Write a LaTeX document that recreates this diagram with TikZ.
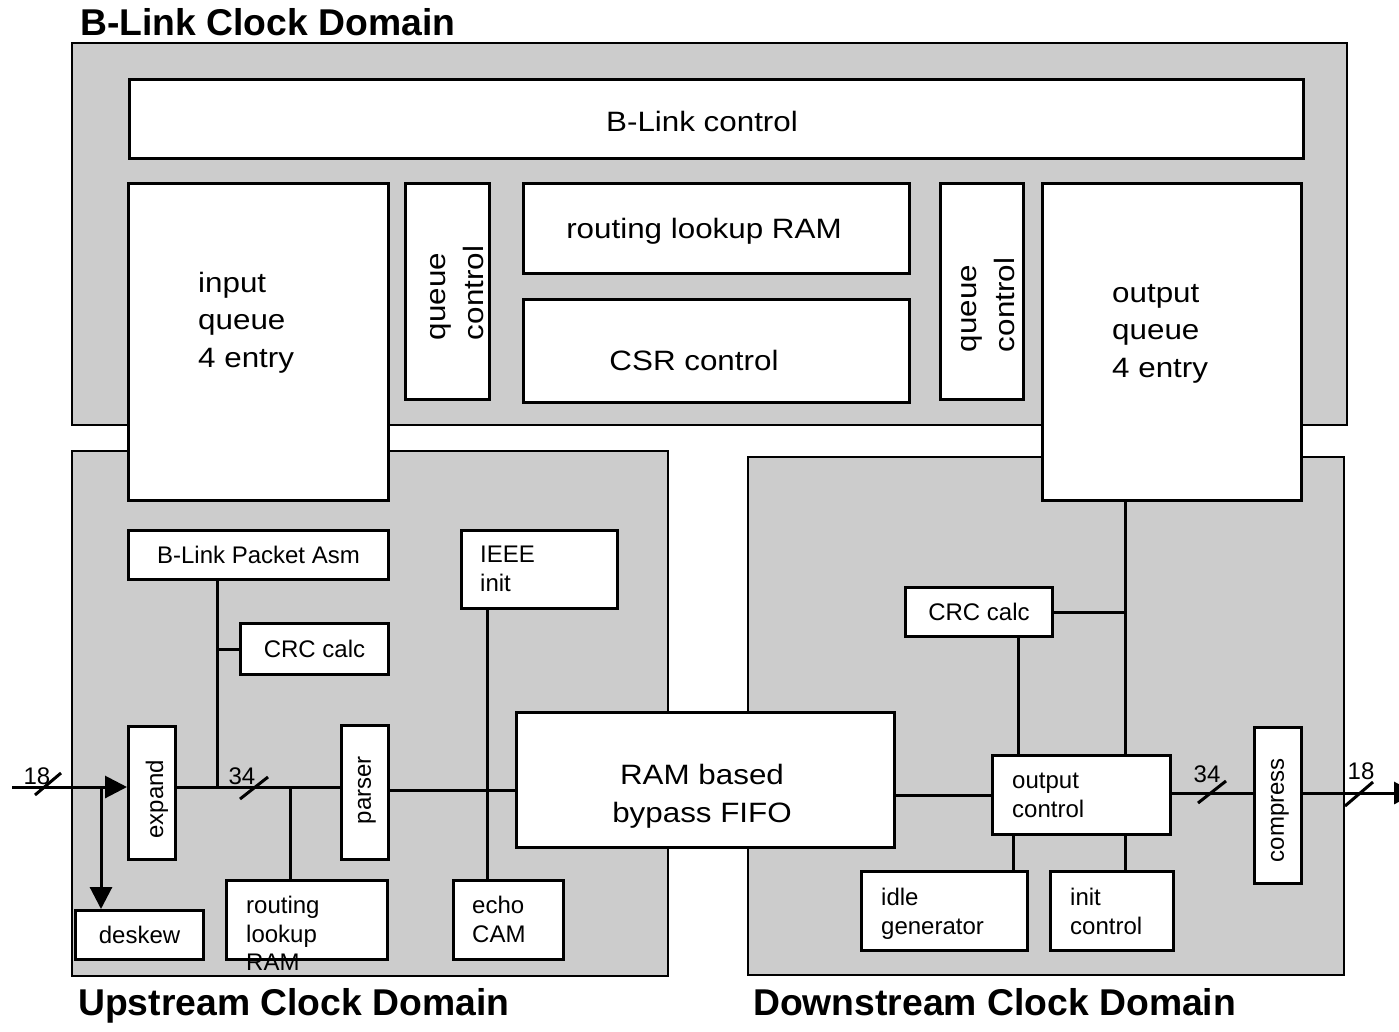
\documentclass[tikz,border=0pt]{standalone}
\usepackage{fontspec}
\setmainfont{Liberation Sans}
\newfontfamily\wideface{Liberation Sans}[FakeStretch=1.12]
\usetikzlibrary{arrows.meta,positioning}

\definecolor{domgray}{gray}{0.8}
\newcommand{\bigfont}{\wideface\fontsize{28}{37.5}\selectfont}
\newcommand{\smallfont}{\fontsize{24}{28.5}\selectfont}
\newcommand{\titlefont}{\fontsize{37.3}{44}\selectfont\bfseries}

\tikzset{
  clkdom/.style={draw, fill=domgray, line width=2pt},
  blk/.style={draw, fill=white, line width=3pt, inner sep=0pt, anchor=north west, font=\smallfont},
  wire/.style={line width=3pt},
  sig/.style={wire, -{Triangle[length=22pt,width=22pt]}},
  lbl/.style={inner sep=0pt, font=\bigfont},
  slbl/.style={inner sep=0pt, font=\smallfont, align=left},
  ttl/.style={inner sep=0pt, anchor=base west, font=\titlefont},
}

\begin{document}
\begin{tikzpicture}[x=1pt,y=-1pt]
  \useasboundingbox (0,0) rectangle (1399,1031);
  \fill[white] (0,0) rectangle (1399,1031);

  % clock domains
  \draw[clkdom] (72,43) rectangle (1347,425);
  \draw[clkdom] (72,451) rectangle (668,976);
  \draw[clkdom] (748,457) rectangle (1344,975);
  \node[ttl] (t-blink) at (80,35) {B-Link Clock Domain};
  \node[ttl] (t-up) at (78,1015) {Upstream Clock Domain};
  \node[ttl] (t-down) at (753,1015) {Downstream Clock Domain};

  % B-Link domain
  \node[blk, minimum width=1174, minimum height=79] (bctl) at (128,78) {};
  \node[lbl, anchor=base] (bctl-t) at (702,131) {B-Link control};
  \node[blk, minimum width=260, minimum height=317] (inq) at (127,182) {};
  \node[lbl, anchor=north west, align=left] (inq-t) at (198,272) {input\\queue\\4 entry};
  \node[blk, minimum width=84, minimum height=216] (qc1) at (404,182) {};
  \node[lbl, rotate=90, align=left] (qc1-t) at (457,293) {queue\\control};
  \node[blk, minimum width=386, minimum height=90] (rlram) at (522,182) {};
  \node[lbl, anchor=base] (rlram-t) at (704,238) {routing lookup RAM};
  \node[blk, minimum width=386, minimum height=103] (csr) at (522,298) {};
  \node[lbl, anchor=base] (csr-t) at (694,370) {CSR control};
  \node[blk, minimum width=83, minimum height=216] (qc2) at (939,182) {};
  \node[lbl, rotate=90, align=left] (qc2-t) at (988,305) {queue\\control};
  \node[blk, minimum width=259, minimum height=317] (outq) at (1041,182) {};
  \node[lbl, anchor=north west, align=left] (outq-t) at (1112,284) {output\\queue\\4 entry};

  % upstream domain
  \node[blk, minimum width=260, minimum height=49] (pasm) at (127,529) {B-Link Packet Asm};
  \node[blk, minimum width=148, minimum height=51] (crcu) at (239,622) {CRC calc};
  \node[blk, minimum width=156, minimum height=78] (ieee) at (460,529) {};
  \node[slbl, anchor=north west] (ieee-t) at (480,546) {IEEE\\init};
  \node[blk, minimum width=47, minimum height=133] (expand) at (127,725) {};
  \node[slbl, rotate=90] (expand-t) at (157,799) {expand};
  \node[blk, minimum width=47, minimum height=134] (parser) at (340,724) {};
  \node[slbl, rotate=90] (parser-t) at (367,790) {parser};
  \node[blk, minimum width=378, minimum height=135] (fifo) at (515,711) {};
  \node[lbl, anchor=north, align=center] (fifo-t) at (702,764) {RAM based\\bypass FIFO};
  \node[blk, minimum width=128, minimum height=49] (deskew) at (74,909) {deskew};
  \node[blk, minimum width=161, minimum height=79] (rtram) at (225,879) {};
  \node[slbl, anchor=north west] (rtram-t) at (246,896) {routing\\lookup\\RAM};
  \node[blk, minimum width=110, minimum height=79] (echo) at (452,879) {};
  \node[slbl, anchor=north west] (echo-t) at (472,896) {echo\\CAM};

  % downstream domain
  \node[blk, minimum width=147, minimum height=49] (crcd) at (904,586) {CRC calc};
  \node[blk, minimum width=178, minimum height=79] (outctl) at (991,754) {};
  \node[slbl, anchor=north west] (outctl-t) at (1012,773) {output\\control};
  \node[blk, minimum width=166, minimum height=79] (idle) at (860,870) {};
  \node[slbl, anchor=north west] (idle-t) at (881,888) {idle\\generator};
  \node[blk, minimum width=123, minimum height=79] (initc) at (1049,870) {};
  \node[slbl, anchor=north west] (initc-t) at (1070,888) {init\\control};
  \node[blk, minimum width=47, minimum height=156] (compress) at (1253,726) {};
  \node[slbl, rotate=90] (compress-t) at (1280,810) {compress};

  % upstream wiring
  \coordinate (in) at (12,787);
  \coordinate (dsk) at (101,787);
  \coordinate (j1) at (217,787);
  \coordinate (j2) at (290,787);
  \coordinate (pf) at (0,790);
  \coordinate (iv) at (487,0);
  \draw[sig] (in) -- (in -| expand.west);
  \draw[sig] (dsk) -- (dsk |- deskew.north);
  \draw[wire] (expand.east |- in) -- (parser.west |- in);
  \draw[wire] (pasm.south -| j1) -- (j1);
  \draw[wire] (crcu.west) -- (crcu.west -| j1);
  \draw[wire] (j2) -- (j2 |- rtram.north);
  \draw[wire] (parser.east |- pf) -- (fifo.west |- pf);
  \draw[wire] (ieee.south -| iv) -- (echo.north -| iv);

  % downstream wiring
  \coordinate (dv) at (1125,0);
  \coordinate (cv) at (1018,0);
  \coordinate (gv) at (1013,0);
  \coordinate (ob) at (0,793);
  \coordinate (out) at (1416,793);
  \draw[wire] (fifo.east |- outctl.west) -- (outctl.west);
  \draw[wire] (outq.south -| dv) -- (outctl.north -| dv);
  \draw[wire] (crcd.east) -- (crcd.east -| dv);
  \draw[wire] (crcd.south -| cv) -- (outctl.north -| cv);
  \draw[wire] (outctl.south -| gv) -- (idle.north -| gv);
  \draw[wire] (outctl.south -| dv) -- (initc.north -| dv);
  \draw[wire] (outctl.east |- ob) -- (compress.west |- ob);
  \draw[sig] (compress.east |- ob) -- (out);

  % bus widths
  \coordinate (s1) at (48,784);
  \coordinate (s2) at (254,788);
  \coordinate (s3) at (1212,792);
  \coordinate (s4) at (1359,794);
  \draw[wire] (s1) +(-13,11) -- +(13,-11);
  \draw[wire] (s2) +(-14,11) -- +(14,-11);
  \draw[wire] (s3) +(-14,11) -- +(14,-11);
  \draw[wire] (s4) +(-14,12) -- +(14,-12);
  \node[slbl] (w1) at (37,776) {18};
  \node[slbl] (w2) at (242,776) {34};
  \node[slbl] (w3) at (1207,774) {34};
  \node[slbl] (w4) at (1361,771) {18};
\end{tikzpicture}
\end{document}
